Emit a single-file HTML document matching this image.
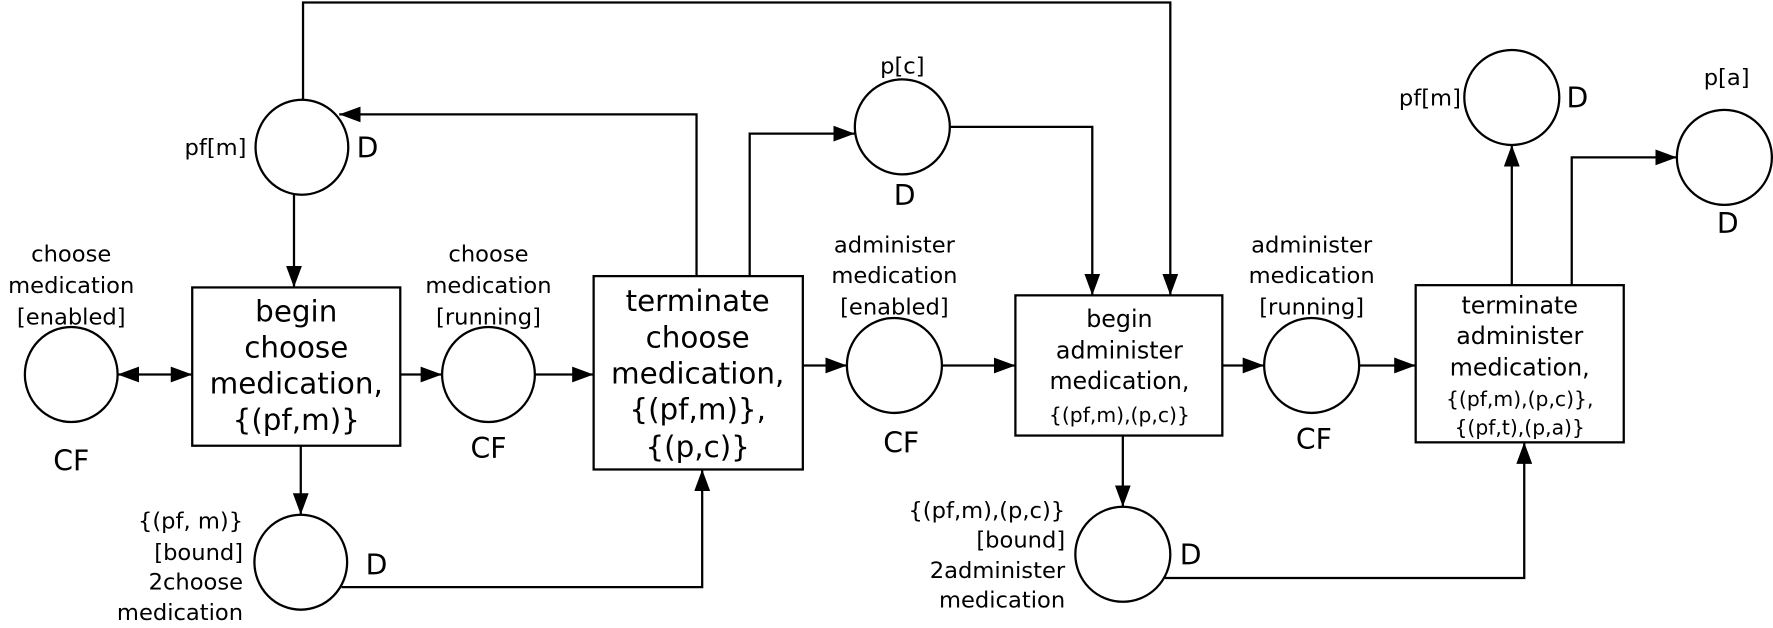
<!DOCTYPE html>
<html><head><meta charset="utf-8"><style>
html,body{margin:0;padding:0;background:#fff}
svg{display:block}
text{font-family:"DejaVu Sans","Liberation Sans",sans-serif;fill:#000}
</style></head><body>
<svg width="1773" height="628" viewBox="0 0 1568 555" xmlns="http://www.w3.org/2000/svg">
<defs>
<marker id="a" markerWidth="19" markerHeight="14" refX="19" refY="7" orient="auto" markerUnits="userSpaceOnUse">
<path d="M0,0 L19,7 L0,14 Z" fill="#000"/></marker>
<marker id="s" markerWidth="19" markerHeight="14" refX="0" refY="7" orient="auto" markerUnits="userSpaceOnUse">
<path d="M19,0 L0,7 L19,14 Z" fill="#000"/></marker>
</defs>
<g fill="none" stroke="#000" stroke-width="2">
<ellipse cx="63" cy="331" rx="41" ry="42"/>
<ellipse cx="267" cy="130" rx="41" ry="42"/>
<ellipse cx="432" cy="331" rx="41" ry="42"/>
<ellipse cx="266" cy="497" rx="41" ry="42"/>
<ellipse cx="798" cy="112" rx="42" ry="42"/>
<ellipse cx="791" cy="323" rx="42" ry="42"/>
<ellipse cx="1160" cy="323" rx="42" ry="42"/>
<ellipse cx="993" cy="490" rx="42" ry="42"/>
<ellipse cx="1337" cy="86" rx="42" ry="42"/>
<ellipse cx="1525" cy="139" rx="42" ry="42"/>
<rect x="170" y="254" width="184" height="140"/>
<rect x="525" y="244" width="185" height="171"/>
<rect x="898" y="261" width="183" height="124"/>
<rect x="1252" y="252" width="184" height="139"/>
<line x1="104" y1="331" x2="170" y2="331" marker-start="url(#s)" marker-end="url(#a)"/>
<line x1="260" y1="171" x2="260" y2="254" marker-end="url(#a)"/>
<polyline points="268,88 268,2 1035,2 1035,261" marker-end="url(#a)"/>
<line x1="354" y1="331" x2="391" y2="331" marker-end="url(#a)"/>
<line x1="473" y1="331" x2="525" y2="331" marker-end="url(#a)"/>
<polyline points="616,244 616,101 300,101" marker-end="url(#a)"/>
<polyline points="663,244 663,118 756,118" marker-end="url(#a)"/>
<polyline points="840,112 966,112 966,261" marker-end="url(#a)"/>
<line x1="266" y1="394" x2="266" y2="455" marker-end="url(#a)"/>
<polyline points="302,519 621,519 621,415" marker-end="url(#a)"/>
<line x1="710" y1="323" x2="749" y2="323" marker-end="url(#a)"/>
<line x1="833" y1="323" x2="898" y2="323" marker-end="url(#a)"/>
<line x1="1081" y1="323" x2="1118" y2="323" marker-end="url(#a)"/>
<line x1="1202" y1="323" x2="1252" y2="323" marker-end="url(#a)"/>
<line x1="1337" y1="252" x2="1337" y2="128" marker-end="url(#a)"/>
<polyline points="1390,252 1390,139 1483,139" marker-end="url(#a)"/>
<line x1="993" y1="385" x2="993" y2="448" marker-end="url(#a)"/>
<polyline points="1030,511 1348,511 1348,391" marker-end="url(#a)"/>
</g>
<g font-size="20" text-anchor="middle">
<text x="63" y="231">choose</text>
<text x="63" y="259">medication</text>
<text x="63" y="287">[enabled]</text>
<text x="432" y="231">choose</text>
<text x="432" y="259">medication</text>
<text x="432" y="287">[running]</text>
<text x="798" y="65">p[c]</text>
<text x="791" y="223">administer</text>
<text x="791" y="250">medication</text>
<text x="791" y="278">[enabled]</text>
<text x="1160" y="223">administer</text>
<text x="1160" y="250">medication</text>
<text x="1160" y="278">[running]</text>
<text x="1527" y="75">p[a]</text>
</g>
<g font-size="20" text-anchor="end">
<text x="218" y="137">pf[m]</text>
<text x="1292" y="93">pf[m]</text>
<text x="215" y="467">{(pf, m)}</text>
<text x="215" y="495">[bound]</text>
<text x="215" y="521">2choose</text>
<text x="215" y="548">medication</text>
<text x="942" y="458">{(pf,m),(p,c)}</text>
<text x="942" y="484">[bound]</text>
<text x="942" y="511">2administer</text>
<text x="942" y="537">medication</text>
</g>
<g font-size="25" text-anchor="middle">
<text x="63" y="416">CF</text>
<text x="432" y="405">CF</text>
<text x="797" y="400">CF</text>
<text x="1162" y="397">CF</text>
<text x="325" y="139">D</text>
<text x="800" y="181">D</text>
<text x="333" y="508">D</text>
<text x="1053" y="499">D</text>
<text x="1395" y="95">D</text>
<text x="1528" y="206">D</text>
</g>
<g font-size="26" text-anchor="middle">
<text x="262" y="284">begin</text>
<text x="262" y="316">choose</text>
<text x="262" y="348">medication,</text>
<text x="262" y="380">{(pf,m)}</text>
<text x="617" y="275">terminate</text>
<text x="617" y="307">choose</text>
<text x="617" y="339">medication,</text>
<text x="617" y="371">{(pf,m)},</text>
<text x="617" y="404">{(p,c)}</text>
</g>
<g font-size="21" text-anchor="middle">
<text x="990" y="289">begin</text>
<text x="990" y="317">administer</text>
<text x="990" y="344">medication,</text>
<text x="1344" y="277">terminate</text>
<text x="1344" y="304">administer</text>
<text x="1344" y="332">medication,</text>
</g>
<g font-size="18" text-anchor="middle">
<text x="990" y="373">{(pf,m),(p,c)}</text>
<text x="1344" y="359">{(pf,m),(p,c)},</text>
<text x="1344" y="384">{(pf,t),(p,a)}</text>
</g>
</svg>
</body></html>
